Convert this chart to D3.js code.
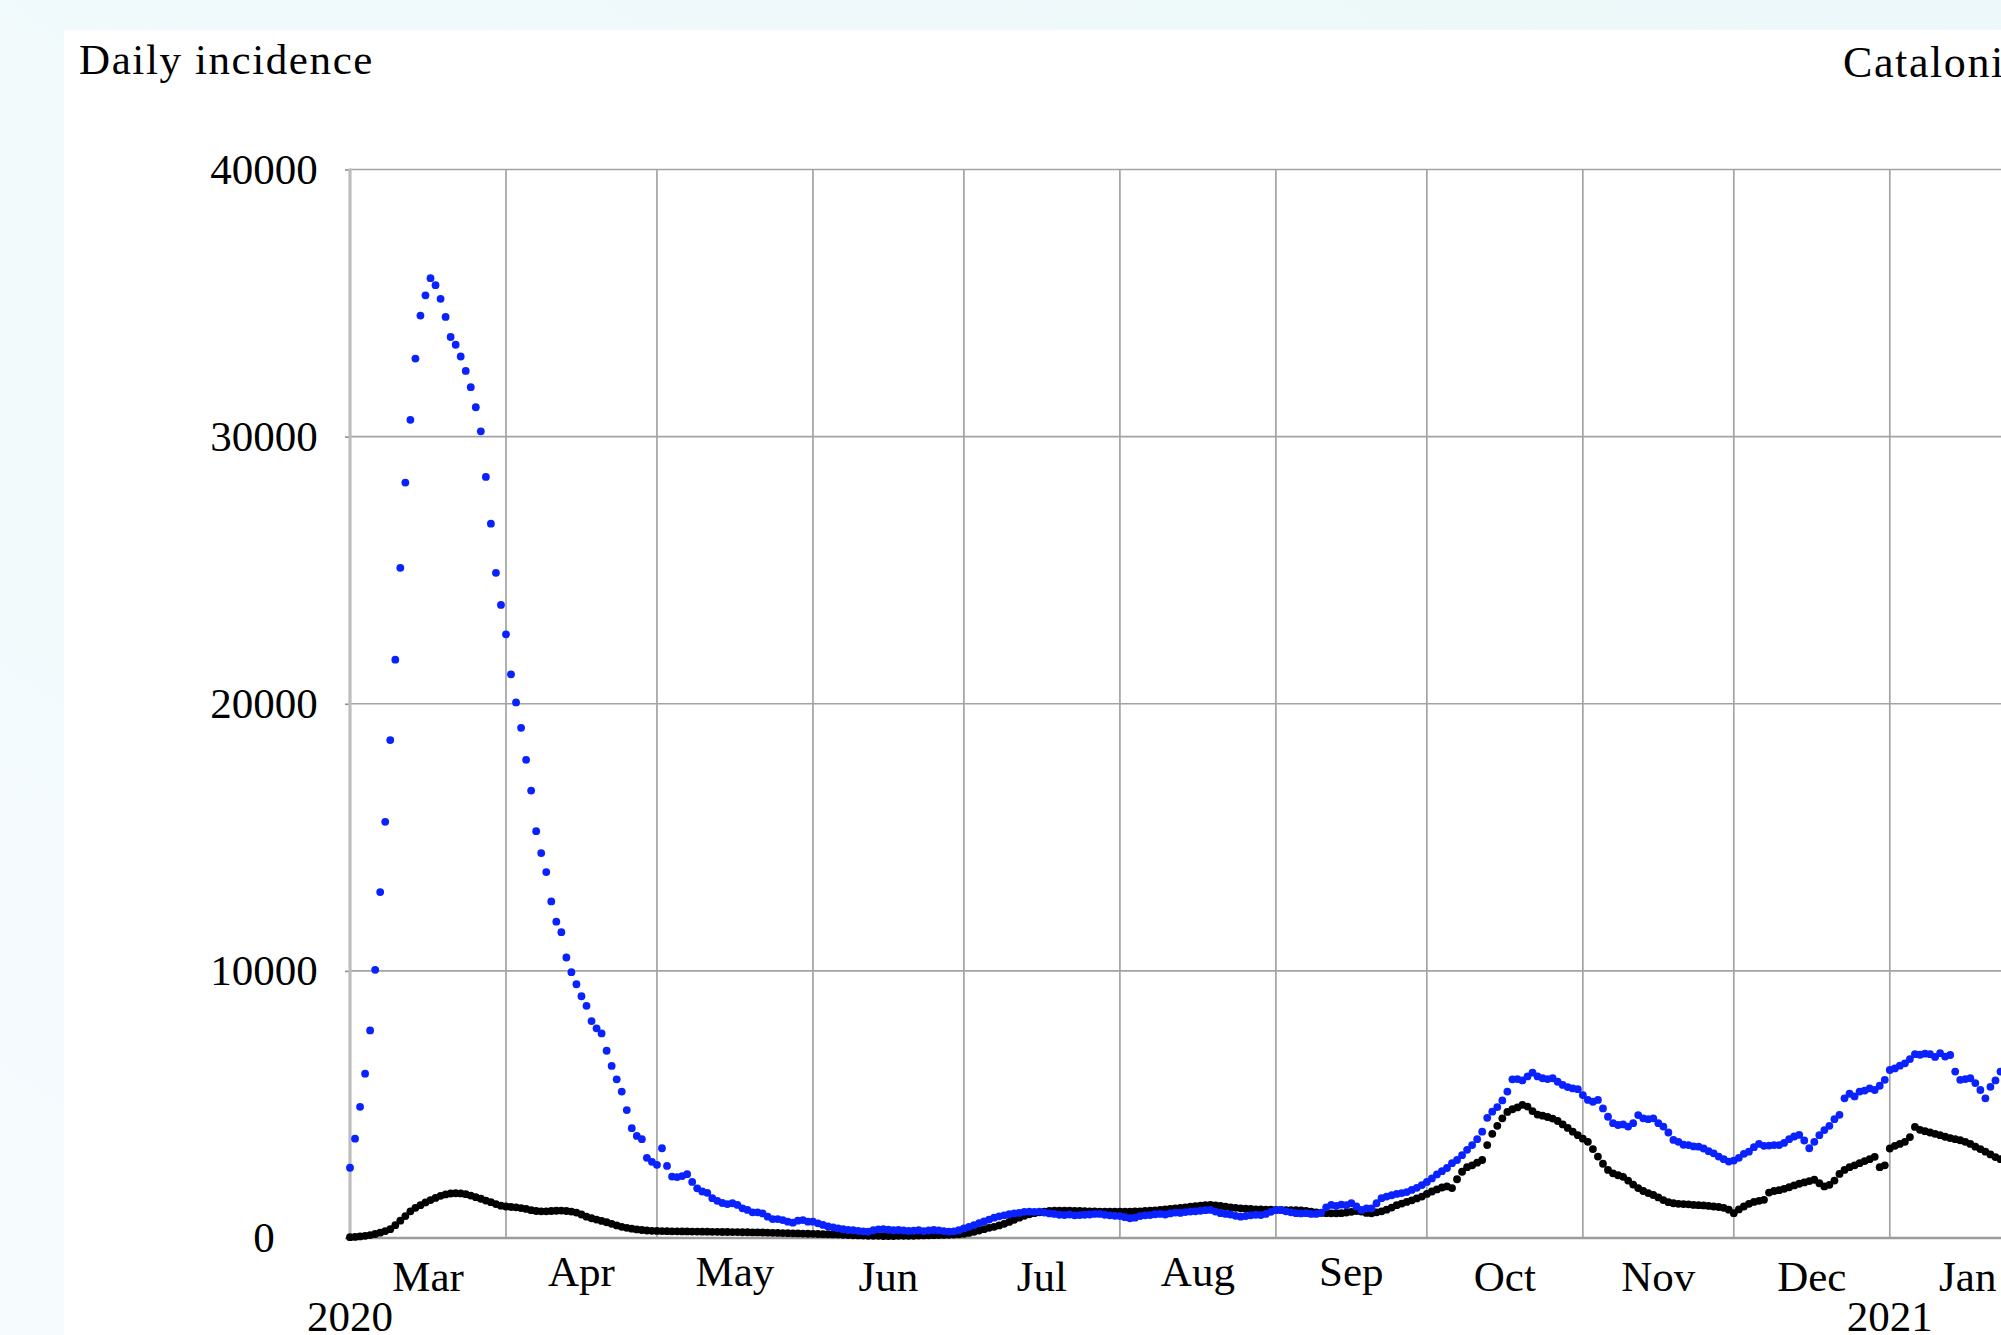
<!DOCTYPE html>
<html>
<head>
<meta charset="utf-8">
<script src="https://cdn.jsdelivr.net/npm/d3@7"></script>
<style>
  html, body { margin: 0; padding: 0; overflow: hidden; background: #f2fafc; }
  svg { display: block; }
  text { font-family: "Liberation Serif", "DejaVu Serif", serif; fill: #000; }
</style>
</head>
<body>
<svg id="chart" width="2001" height="1335"></svg>
<script>
// Daily series, one value per day starting 1 March 2020
const firstDay = "2020-03-01";

const estimatedIncidence = [
  2630, 3720, 4910, 6150, 7770, 10040, 12950, 15580, 18640, 21650,
  25090, 28280, 30630, 32920, 34530, 35290, 35930, 35670, 35160, 34480,
  33730, 33440, 33000, 32460, 31850, 31100, 30200, 28490, 26740, 24900,
  23700, 22600, 21100, 20050, 19100, 17900, 16750, 15230, 14410, 13700,
  12600, 11840, 11450, 10500, 9950, 9500, 9050, 8690, 8120, 7850,
  7660, 7010, 6440, 5940, 5480, 4790, 4110, 3820, 3700, 3000,
  2850, 2740, 3360, 2700, 2300, 2280, 2320, 2390, 2100, 1860,
  1740, 1690, 1490, 1390, 1310, 1270, 1300, 1240, 1110, 1050,
  960, 960, 920, 800, 710, 710, 670, 610, 575, 650,
  670, 610, 610, 550, 490, 430, 400, 360, 330, 300,
  290, 270, 250, 240, 290, 325, 330, 310, 290, 300,
  280, 265, 275, 290, 260, 280, 300, 285, 260, 240,
  250, 290, 360, 420, 480, 560, 620, 690, 760, 810,
  850, 890, 920, 940, 980, 990, 980, 990, 950, 920,
  900, 870, 860, 880, 850, 860, 870, 880, 900, 900,
  870, 850, 830, 820, 780, 740, 760, 820, 850, 860,
  890, 900, 880, 920, 950, 940, 970, 990, 1000, 1020,
  1040, 1050, 990, 930, 900, 880, 830, 800, 820, 850,
  870, 860, 900, 980, 1040, 1050, 1000, 960, 930, 920,
  930, 900, 900, 950, 1150, 1240, 1200, 1250, 1230, 1300,
  1180, 1050, 1110, 1110, 1300, 1490, 1550, 1600, 1650, 1680,
  1720, 1800, 1880, 1980, 2100, 2230, 2380, 2500, 2620, 2800,
  2920, 3100, 3300, 3480, 3700, 3980, 4500, 4730, 4900, 5150,
  5480, 5940, 5950, 5900, 6050, 6190, 6050, 5980, 5950, 5980,
  5850, 5730, 5650, 5600, 5570, 5350, 5170, 5100, 5170, 4850,
  4540, 4300, 4230, 4250, 4170, 4300, 4600, 4480, 4450, 4480,
  4300, 4170, 3950, 3670, 3600, 3490, 3480, 3430, 3420, 3350,
  3250, 3170, 3050, 2950, 2860, 2900, 3000, 3150, 3230, 3400,
  3520, 3450, 3460, 3480, 3480, 3560, 3700, 3800, 3860, 3650,
  3360, 3600, 3850, 4040, 4200, 4450, 4610, 5230, 5400, 5300,
  5480, 5520, 5600, 5540, 5700, 5920, 6290, 6350, 6450, 6540,
  6700, 6880, 6860, 6900, 6880, 6780, 6920, 6790, 6850, 6230,
  5920, 5950, 5980, 5800, 5540, 5230, 5660, 5900, 6230, 6300
];

const reportedCases = [
  30, 40, 60, 80, 110, 150, 200, 260, 330, 480,
  650, 820, 1000, 1130, 1230, 1330, 1420, 1500, 1580, 1630,
  1665, 1675, 1670, 1640, 1590, 1530, 1470, 1400, 1340, 1270,
  1210, 1180, 1160, 1150, 1120, 1090, 1040, 1010, 1000, 1000,
  1010, 1020, 1025, 1010, 990, 950, 880, 800, 740, 690,
  640, 590, 530, 470, 420, 380, 350, 320, 300, 280,
  270, 265, 260, 255, 250, 250, 245, 245, 240, 240,
  235, 235, 230, 230, 225, 225, 220, 220, 215, 215,
  210, 210, 205, 200, 195, 190, 185, 180, 175, 170,
  165, 160, 155, 150, 145, 140, 135, 130, 120, 110,
  100, 95, 90, 85, 80, 80, 75, 75, 75, 80,
  80, 85, 85, 90, 95, 100, 105, 110, 115, 120,
  130, 140, 160, 190, 230, 280, 330, 380, 420, 470,
  530, 600, 680, 760, 830, 890, 930, 960, 990, 1010,
  1020, 1025, 1025, 1020, 1015, 1010, 1005, 1000, 995, 990,
  985, 985, 985, 985, 990, 990, 995, 1000, 1010, 1020,
  1035, 1050, 1070, 1090, 1110, 1130, 1150, 1170, 1190, 1210,
  1230, 1235, 1225, 1200, 1170, 1150, 1130, 1110, 1095, 1085,
  1075, 1070, 1065, 1060, 1055, 1050, 1045, 1045, 1040, 1030,
  1010, 990, 960, 940, 930, 925, 925, 930, 950, 980,
  1010, 990, 940, 925, 960, 1000, 1060, 1140, 1230, 1290,
  1350, 1410, 1480, 1550, 1650, 1740, 1820, 1890, 1930, 1870,
  2200, 2480, 2650, 2720, 2820, 2920, 3480, 3900, 4200, 4480,
  4720, 4820, 4890, 4980, 4920, 4750, 4620, 4580, 4530, 4470,
  4380, 4250, 4120, 3980, 3850, 3720, 3600, 3330, 3050, 2780,
  2550, 2420, 2350, 2290, 2150, 2000, 1870, 1760, 1680, 1610,
  1520, 1420, 1340, 1300, 1280, 1270, 1260, 1240, 1230, 1220,
  1200, 1180, 1160, 1130, 1060, 930, 1070, 1180, 1280, 1350,
  1390, 1430, 1700, 1760, 1790, 1840, 1900, 1970, 2030, 2080,
  2130, 2180, 2050, 1930, 1990, 2150, 2400, 2550, 2650, 2720,
  2800, 2880, 2950, 3040, 2650, 2720, 3350, 3450, 3520, 3600,
  3780, 4160, 4050, 4000, 3950, 3900, 3850, 3790, 3740, 3700,
  3660, 3600, 3520, 3420, 3330, 3230, 3130, 3030, 2950, 2900
];

const yTicks = [0, 10000, 20000, 30000, 40000];
const monthLabels = ["Mar", "Apr", "May", "Jun", "Jul", "Aug", "Sep", "Oct", "Nov", "Dec", "Jan"];
const yearLabels = [
  { date: "2020-03-01", label: "2020" },
  { date: "2021-01-01", label: "2021" }
];
const titleLeft = "Daily incidence";
const titleRight = "Catalonia";

// ---- layout ----
const W = 2001, H = 1335;
const plotLeft = 350, plotTop = 169.5, plotBottom = 1238;
const pxPerDay = 5.032;
const fontSize = 43;

const parse = d3.utcParse("%Y-%m-%d");
const start = parse(firstDay);
const endDate = d3.utcDay.offset(start, 360);

const x = d3.scaleUtc()
  .domain([start, endDate])
  .range([plotLeft, plotLeft + 360 * pxPerDay]);
const y = d3.scaleLinear().domain([0, 40000]).range([plotBottom, plotTop]);

const svg = d3.select("#chart");

// page background and white sheet
const defs = svg.append("defs");
const grad = defs.append("linearGradient").attr("id", "bg")
  .attr("x1", "0").attr("y1", "1").attr("x2", "1").attr("y2", "0");
grad.append("stop").attr("offset", "0").attr("stop-color", "#f6fbfe");
grad.append("stop").attr("offset", "1").attr("stop-color", "#ecf8f9");
svg.append("rect").attr("width", W).attr("height", H).attr("fill", "url(#bg)");
svg.append("rect").attr("x", 64).attr("y", 30).attr("width", W - 64).attr("height", H - 30).attr("fill", "#fff");

// vertical month grid lines
const monthStarts = d3.utcMonth.range(d3.utcMonth.offset(start, 1), endDate);
svg.append("g").selectAll("line").data(monthStarts).join("line")
  .attr("x1", d => x(d)).attr("x2", d => x(d))
  .attr("y1", plotTop).attr("y2", plotBottom)
  .attr("stroke", "#a3a3a3").attr("stroke-width", 1.7);

// horizontal grid lines
svg.append("g").selectAll("line").data(yTicks.filter(v => v > 0)).join("line")
  .attr("x1", plotLeft).attr("x2", W + 200)
  .attr("y1", d => y(d)).attr("y2", d => y(d))
  .attr("stroke", "#a3a3a3").attr("stroke-width", 1.7);

// y axis with outward ticks and centred labels
const yAxis = d3.axisLeft(y).tickValues(yTicks).tickSize(5).tickFormat(d3.format("d"));
const gy = svg.append("g").attr("transform", `translate(${plotLeft},0)`).call(yAxis);
gy.select(".domain").remove();
gy.selectAll(".tick line").attr("stroke", "#8c8c8c").attr("stroke-width", 1.6);
gy.selectAll(".tick text")
  .attr("font-family", "Liberation Serif, serif")
  .attr("font-size", fontSize)
  .attr("text-anchor", "middle")
  .attr("x", -86)
  .attr("dy", null)
  .attr("y", 13.5)
  .attr("fill", "#000");

// axis lines
svg.append("line").attr("x1", plotLeft).attr("x2", plotLeft)
  .attr("y1", plotTop - 1).attr("y2", plotBottom)
  .attr("stroke", "#bdbdbd").attr("stroke-width", 3.2);
svg.append("line").attr("x1", plotLeft).attr("x2", W + 200)
  .attr("y1", plotBottom).attr("y2", plotBottom)
  .attr("stroke", "#9c9c9c").attr("stroke-width", 2.4);

// month labels centred within each month
const monthBands = d3.utcMonth.range(start, d3.utcMonth.offset(start, monthLabels.length));
svg.append("g").selectAll("text").data(monthBands).join("text")
  .attr("x", (d, i) => (x(d) + x(d3.utcMonth.offset(d, 1))) / 2)
  .attr("y", (d, i) => /[gjpqy]/.test(monthLabels[i]) ? 1285.5 : 1290.5)
  .attr("text-anchor", "middle")
  .attr("font-size", fontSize)
  .text((d, i) => monthLabels[i]);

// year labels under the first day of each year
svg.append("g").selectAll("text").data(yearLabels).join("text")
  .attr("x", d => x(parse(d.date)))
  .attr("y", 1331)
  .attr("text-anchor", "middle")
  .attr("font-size", fontSize)
  .text(d => d.label);

// titles
svg.append("text").attr("x", 79).attr("y", 73.5)
  .attr("font-size", fontSize).attr("letter-spacing", 1.6).text(titleLeft);
svg.append("text").attr("x", 1843).attr("y", 77)
  .attr("font-size", fontSize + 1).attr("letter-spacing", 1.6).text(titleRight);

// data points
const dayDate = i => d3.utcDay.offset(start, i);
const dotR = 3.9;

svg.append("g").selectAll("circle").data(reportedCases).join("circle")
  .attr("cx", (d, i) => x(dayDate(i)))
  .attr("cy", d => y(d))
  .attr("r", dotR)
  .attr("fill", "#000");

svg.append("g").selectAll("circle").data(estimatedIncidence).join("circle")
  .attr("cx", (d, i) => x(dayDate(i)))
  .attr("cy", d => y(d))
  .attr("r", dotR)
  .attr("fill", "#0a22ff");
</script>
</body>
</html>
